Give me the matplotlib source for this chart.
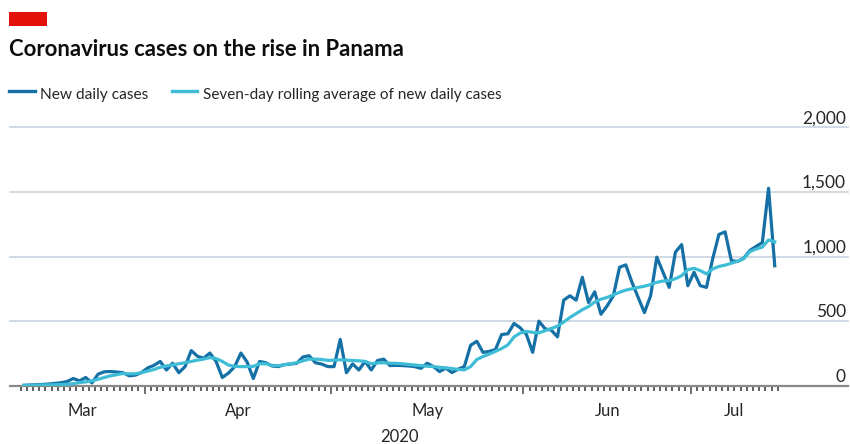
import matplotlib
matplotlib.use("Agg")
import matplotlib.pyplot as plt
import matplotlib.transforms as mtransforms
from matplotlib import font_manager
from matplotlib.lines import Line2D
from matplotlib.patches import Rectangle
import pandas as pd


TITLE = "Coronavirus cases on the rise in Panama"
SERIES_NAMES = ["New daily cases", "Seven-day rolling average of new daily cases"]
FIRST_DAY = "2020-03-12"
LAST_DAY = "2020-07-14"
MISSING_DAYS = ["2020-06-07", "2020-06-14", "2020-06-21"]
YEAR_LABEL = "2020"
Y_TICKS = [0, 500, 1000, 1500, 2000]

DAILY = [
    5, 8, 10, 12, 15, 20, 25, 35, 58, 40,
    66, 24, 92, 110, 112, 108, 103, 79, 84, 105,
    140, 160, 190, 124, 176, 103, 150, 274, 230, 215,
    255, 190, 66, 100, 150, 255, 185, 58, 190, 180,
    155, 150, 165, 170, 176, 225, 234, 180, 170, 150,
    150, 360, 103, 171, 124, 190, 124, 197, 208, 158,
    160, 158, 155, 150, 137, 176, 151, 112, 138, 104,
    130, 151, 315, 346, 260, 268, 281, 398, 404, 484,
    450, 398, 260, 502, 443, 432, 380, 664, 698, 664,
    841, 646, 729, 555, 620, 698, 919, 937, 802, 685,
    568, 698, 997, 880, 763, 1036, 1094, 776, 880, 776,
    763, 984, 1172, 1193, 971, 963, 989, 1049, 1080, 1110,
    1530, 930,
]

ROLLING = [
    5, 6, 7, 8, 9, 10, 11, 13, 18, 26,
    32, 40, 52, 66, 79, 88, 97, 94, 95, 103,
    116, 128, 145, 155, 163, 172, 180, 190, 200, 208,
    220, 212, 190, 162, 152, 150, 150, 152, 172, 172,
    160, 157, 165, 172, 180, 195, 208, 208, 205, 198,
    200, 203, 200, 197, 195, 190, 172, 178, 180, 176,
    175, 172, 167, 162, 158, 153, 150, 145, 140, 135,
    128, 125, 150, 205, 228, 247, 268, 290, 318, 380,
    410, 422, 415, 411, 428, 445, 463, 495, 530, 560,
    590, 615, 650, 672, 685, 705, 725, 742, 752, 763,
    772, 785, 802, 812, 815, 830, 854, 900, 910, 893,
    867, 906, 925, 935, 950, 965, 984, 1040, 1060, 1075,
    1130, 1115,
]

DARK = "#1570a6"
LIGHT = "#3fbdd6"
GRID = "#c9d4de"
AXIS = "#8a8a8a"
TEXT = "#262626"

W, H = 850, 444

names = {f.name for f in font_manager.fontManager.ttflist}
FONT = "Liberation Sans Narrow" if "Liberation Sans Narrow" in names else "Lato"
plt.rcParams["font.family"] = [FONT, "DejaVu Sans"]


def fx(x):
    return x / W


def fy(y):
    return 1 - y / H


dates = pd.date_range(FIRST_DAY, LAST_DAY, freq="D")
dates = dates[~dates.isin(pd.to_datetime(MISSING_DAYS))]
frame = pd.DataFrame({"daily": DAILY, "rolling": ROLLING}, index=dates)
positions = list(range(len(frame)))

fig = plt.figure(figsize=(W / 100, H / 100), dpi=100)
fig.patch.set_facecolor("white")

# header
fig.patches.append(Rectangle((fx(9), fy(26)), fx(47) - fx(9), fy(12) - fy(26),
                             transform=fig.transFigure, color="#e3120b", lw=0))
fig.text(fx(9), fy(55.5), TITLE, fontsize=15.9, fontweight="bold",
         color="#0d0d0d", va="baseline")
fig.lines.append(Line2D([fx(9), fx(35)], [fy(91), fy(91)], color=DARK, lw=2.4,
                        transform=fig.transFigure))
fig.text(fx(40), fy(98.5), SERIES_NAMES[0], fontsize=11.2, color=TEXT, va="baseline")
fig.lines.append(Line2D([fx(172), fx(197)], [fy(91), fy(91)], color=LIGHT, lw=2.4,
                        transform=fig.transFigure))
fig.text(fx(203), fy(98.5), SERIES_NAMES[1], fontsize=11.0, color=TEXT, va="baseline")

ax = fig.add_axes([fx(10), fy(386), fx(848) - fx(10), fy(127.5) - fy(386)])
ax.set_facecolor("none")
ax.plot(positions, frame["daily"], color=DARK, lw=2.3, solid_joinstyle="round", zorder=3)
ax.plot(positions, frame["rolling"], color=LIGHT, lw=2.3, solid_joinstyle="round", zorder=4)

ax.set_ylim(Y_TICKS[0], Y_TICKS[-1])
ax.set_xlim(-2.2, len(frame) - 1 + 11.8)
for value in Y_TICKS[1:]:
    ax.axhline(value, color=GRID, lw=1.2, zorder=1, clip_on=False)

for side in ("left", "right", "top"):
    ax.spines[side].set_visible(False)
ax.spines["bottom"].set_color(AXIS)
ax.spines["bottom"].set_linewidth(1.6)
ax.set_yticks([])

# day ticks between points, longer ticks at month boundaries
month_starts = [i for i in positions[1:] if dates[i].month != dates[i - 1].month]
majors = [i - 0.5 for i in month_starts]
minors = [i - 0.5 for i in range(len(frame) + 1) if i not in month_starts]
ax.set_xticks(majors)
ax.set_xticks(minors, minor=True)
ax.set_xticklabels([])
ax.tick_params(axis="x", which="major", direction="out", length=6, width=1.1, color="#444444")
ax.tick_params(axis="x", which="minor", direction="out", length=3.4, width=1.2, color="#444444")

below = mtransforms.blended_transform_factory(ax.transData, fig.transFigure)
for month, group in frame.groupby(frame.index.month):
    idx = [dates.get_loc(d) for d in group.index]
    centre = (idx[0] + idx[-1]) / 2
    ax.text(centre, fy(415.5), group.index[0].strftime("%b"), transform=below,
            ha="center", va="baseline", fontsize=12, color=TEXT)
ax.text((len(frame) - 1) / 2, fy(442), YEAR_LABEL, transform=below,
        ha="center", va="baseline", fontsize=12, color=TEXT)

right = mtransforms.blended_transform_factory(fig.transFigure, ax.transData)
right = mtransforms.offset_copy(right, fig=fig, y=4, units="dots")
for value in Y_TICKS:
    ax.text(fx(846), value, f"{value:,}", transform=right, ha="right",
            va="baseline", fontsize=12.5, color=TEXT)

fig.savefig("out.png", dpi=100, facecolor="white")
